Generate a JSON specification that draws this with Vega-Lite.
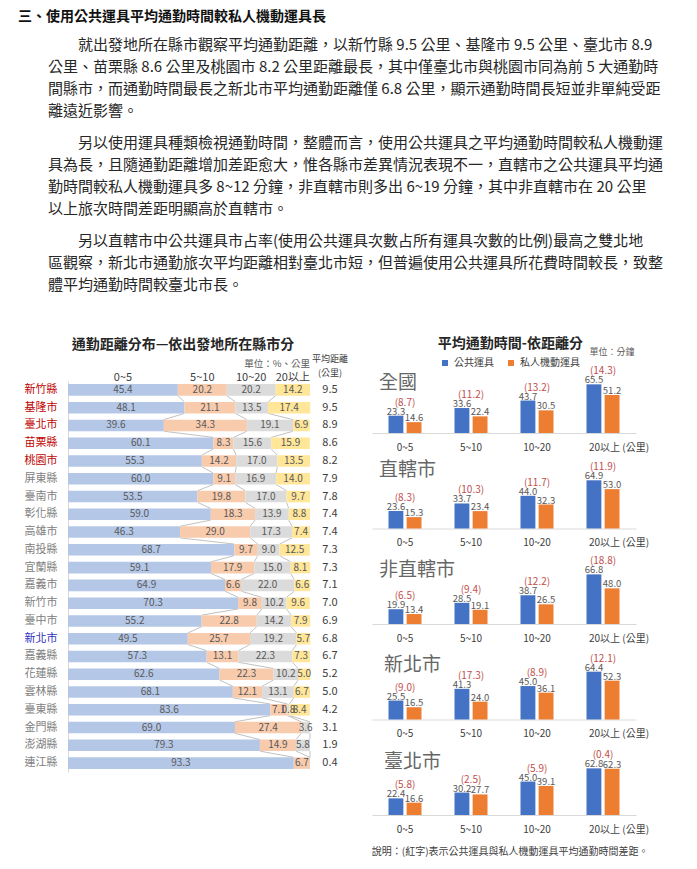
{
  "$schema": "https://vega.github.io/schema/vega-lite/v6.json",
  "background": "white",
  "padding": {"left": 18, "top": 6, "right": 0, "bottom": 0},
  "config": {
    "view": {"stroke": null},
    "font": "Noto Sans CJK TC",
    "title": {"font": "Noto Sans CJK TC", "color": "#262626"},
    "legend": {"layout": {"top": {"anchor": "middle"}}}
  },
  "datasets": {
    "text": [
      {"para": 0, "line": 1, "text": "三、使用公共運具平均通勤時間較私人機動運具長"},
      {"para": 1, "line": 1, "text": "\u200B　　　　就出發地所在縣市觀察平均通勤距離，以新竹縣 9.5 公里、基隆市 9.5 公里、臺北市 8.9"},
      {"para": 1, "line": 2, "text": "\u200B　　公里、苗栗縣 8.6 公里及桃園市 8.2 公里距離最長，其中僅臺北市與桃園市同為前 5 大通勤時"},
      {"para": 1, "line": 3, "text": "\u200B　　間縣市，而通勤時間最長之新北市平均通勤距離僅 6.8 公里，顯示通勤時間長短並非單純受距"},
      {"para": 1, "line": 4, "text": "\u200B　　離遠近影響。"},
      {"para": 2, "line": 1, "text": "\u200B　　　　另以使用運具種類檢視通勤時間，整體而言，使用公共運具之平均通勤時間較私人機動運"},
      {"para": 2, "line": 2, "text": "\u200B　　具為長，且隨通勤距離增加差距愈大，惟各縣市差異情況表現不一，直轄市之公共運具平均通"},
      {"para": 2, "line": 3, "text": "\u200B　　勤時間較私人機動運具多 8~12 分鐘，非直轄市則多出 6~19 分鐘，其中非直轄市在 20 公里"},
      {"para": 2, "line": 4, "text": "\u200B　　以上旅次時間差距明顯高於直轄市。"},
      {"para": 3, "line": 1, "text": "\u200B　　　　另以直轄市中公共運具市占率(使用公共運具次數占所有運具次數的比例)最高之雙北地"},
      {"para": 3, "line": 2, "text": "\u200B　　區觀察，新北市通勤旅次平均距離相對臺北市短，但普遍使用公共運具所花費時間較長，致整"},
      {"para": 3, "line": 3, "text": "\u200B　　體平均通勤時間較臺北市長。"}
    ],
    "dist": [
      {"county": "新竹縣", "0~5": 45.4, "5~10": 20.2, "10~20": 20.2, "20以上": 14.2, "avgKm": 9.5},
      {"county": "基隆市", "0~5": 48.1, "5~10": 21.1, "10~20": 13.5, "20以上": 17.4, "avgKm": 9.5},
      {"county": "臺北市", "0~5": 39.6, "5~10": 34.3, "10~20": 19.1, "20以上": 6.9, "avgKm": 8.9},
      {"county": "苗栗縣", "0~5": 60.1, "5~10": 8.3, "10~20": 15.6, "20以上": 15.9, "avgKm": 8.6},
      {"county": "桃園市", "0~5": 55.3, "5~10": 14.2, "10~20": 17.0, "20以上": 13.5, "avgKm": 8.2},
      {"county": "屏東縣", "0~5": 60.0, "5~10": 9.1, "10~20": 16.9, "20以上": 14.0, "avgKm": 7.9},
      {"county": "臺南市", "0~5": 53.5, "5~10": 19.8, "10~20": 17.0, "20以上": 9.7, "avgKm": 7.8},
      {"county": "彰化縣", "0~5": 59.0, "5~10": 18.3, "10~20": 13.9, "20以上": 8.8, "avgKm": 7.4},
      {"county": "高雄市", "0~5": 46.3, "5~10": 29.0, "10~20": 17.3, "20以上": 7.4, "avgKm": 7.4},
      {"county": "南投縣", "0~5": 68.7, "5~10": 9.7, "10~20": 9.0, "20以上": 12.5, "avgKm": 7.3},
      {"county": "宜蘭縣", "0~5": 59.1, "5~10": 17.9, "10~20": 15.0, "20以上": 8.1, "avgKm": 7.3},
      {"county": "嘉義市", "0~5": 64.9, "5~10": 6.6, "10~20": 22.0, "20以上": 6.6, "avgKm": 7.1},
      {"county": "新竹市", "0~5": 70.3, "5~10": 9.8, "10~20": 10.2, "20以上": 9.6, "avgKm": 7.0},
      {"county": "臺中市", "0~5": 55.2, "5~10": 22.8, "10~20": 14.2, "20以上": 7.9, "avgKm": 6.9},
      {"county": "新北市", "0~5": 49.5, "5~10": 25.7, "10~20": 19.2, "20以上": 5.7, "avgKm": 6.8},
      {"county": "嘉義縣", "0~5": 57.3, "5~10": 13.1, "10~20": 22.3, "20以上": 7.3, "avgKm": 6.7},
      {"county": "花蓮縣", "0~5": 62.6, "5~10": 22.3, "10~20": 10.2, "20以上": 5.0, "avgKm": 5.2},
      {"county": "雲林縣", "0~5": 68.1, "5~10": 12.1, "10~20": 13.1, "20以上": 6.7, "avgKm": 5.0},
      {"county": "臺東縣", "0~5": 83.6, "5~10": 7.1, "10~20": 0.8, "20以上": 8.4, "avgKm": 4.2},
      {"county": "金門縣", "0~5": 69.0, "5~10": 27.4, "10~20": 3.6, "20以上": 0, "avgKm": 3.1},
      {"county": "澎湖縣", "0~5": 79.3, "5~10": 14.9, "10~20": 5.8, "20以上": 0, "avgKm": 1.9},
      {"county": "連江縣", "0~5": 93.3, "5~10": 6.7, "10~20": 0, "20以上": 0, "avgKm": 0.4}
    ],
    "time": [
      {"panel": "全國", "range": "0~5", "公共運具": 23.3, "私人機動運具": 14.6, "diff": "(8.7)"},
      {"panel": "全國", "range": "5~10", "公共運具": 33.6, "私人機動運具": 22.4, "diff": "(11.2)"},
      {"panel": "全國", "range": "10~20", "公共運具": 43.7, "私人機動運具": 30.5, "diff": "(13.2)"},
      {"panel": "全國", "range": "20以上", "公共運具": 65.5, "私人機動運具": 51.2, "diff": "(14.3)"},
      {"panel": "直轄市", "range": "0~5", "公共運具": 23.6, "私人機動運具": 15.3, "diff": "(8.3)"},
      {"panel": "直轄市", "range": "5~10", "公共運具": 33.7, "私人機動運具": 23.4, "diff": "(10.3)"},
      {"panel": "直轄市", "range": "10~20", "公共運具": 44.0, "私人機動運具": 32.3, "diff": "(11.7)"},
      {"panel": "直轄市", "range": "20以上", "公共運具": 64.9, "私人機動運具": 53.0, "diff": "(11.9)"},
      {"panel": "非直轄市", "range": "0~5", "公共運具": 19.9, "私人機動運具": 13.4, "diff": "(6.5)"},
      {"panel": "非直轄市", "range": "5~10", "公共運具": 28.5, "私人機動運具": 19.1, "diff": "(9.4)"},
      {"panel": "非直轄市", "range": "10~20", "公共運具": 38.7, "私人機動運具": 26.5, "diff": "(12.2)"},
      {"panel": "非直轄市", "range": "20以上", "公共運具": 66.8, "私人機動運具": 48.0, "diff": "(18.8)"},
      {"panel": "新北市", "range": "0~5", "公共運具": 25.5, "私人機動運具": 16.5, "diff": "(9.0)"},
      {"panel": "新北市", "range": "5~10", "公共運具": 41.3, "私人機動運具": 24.0, "diff": "(17.3)"},
      {"panel": "新北市", "range": "10~20", "公共運具": 45.0, "私人機動運具": 36.1, "diff": "(8.9)"},
      {"panel": "新北市", "range": "20以上", "公共運具": 64.4, "私人機動運具": 52.3, "diff": "(12.1)"},
      {"panel": "臺北市", "range": "0~5", "公共運具": 22.4, "私人機動運具": 16.6, "diff": "(5.8)"},
      {"panel": "臺北市", "range": "5~10", "公共運具": 30.2, "私人機動運具": 27.7, "diff": "(2.5)"},
      {"panel": "臺北市", "range": "10~20", "公共運具": 45.0, "私人機動運具": 39.1, "diff": "(5.9)"},
      {"panel": "臺北市", "range": "20以上", "公共運具": 62.8, "私人機動運具": 62.3, "diff": "(0.4)"}
    ]
  },
  "spacing": 41,
  "vconcat": [
    {
      "spacing": 6,
      "vconcat": [
        {
          "data": {"name": "text"},
          "transform": [{"filter": "datum.para == 0"}],
          "width": 640,
          "height": {"step": 22},
          "mark": {"type": "text", "align": "left", "baseline": "middle", "fontSize": 14, "fontWeight": "bold", "color": "#111111"},
          "encoding": {
            "y": {"field": "line", "type": "ordinal", "axis": null},
            "x": {"datum": 0, "type": "quantitative", "scale": {"domain": [0, 1], "range": [-50, 590]}, "axis": null},
            "text": {"field": "text"}
          }
        },
        {
          "spacing": 10,
          "vconcat": [
            {
              "data": {"name": "text"},
              "transform": [{"filter": "datum.para == 1"}],
              "width": 640,
              "height": {"step": 22},
              "mark": {"type": "text", "align": "left", "baseline": "middle", "fontSize": 15, "color": "#262626"},
              "encoding": {
                "y": {"field": "line", "type": "ordinal", "axis": null},
                "x": {"datum": 0, "type": "quantitative", "scale": {"domain": [0, 1], "range": [-50, 590]}, "axis": null},
                "text": {"field": "text"}
              }
            },
            {
              "data": {"name": "text"},
              "transform": [{"filter": "datum.para == 2"}],
              "width": 640,
              "height": {"step": 22},
              "mark": {"type": "text", "align": "left", "baseline": "middle", "fontSize": 15, "color": "#262626"},
              "encoding": {
                "y": {"field": "line", "type": "ordinal", "axis": null},
                "x": {"datum": 0, "type": "quantitative", "scale": {"domain": [0, 1], "range": [-50, 590]}, "axis": null},
                "text": {"field": "text"}
              }
            },
            {
              "data": {"name": "text"},
              "transform": [{"filter": "datum.para == 3"}],
              "width": 640,
              "height": {"step": 22},
              "mark": {"type": "text", "align": "left", "baseline": "middle", "fontSize": 15, "color": "#262626"},
              "encoding": {
                "y": {"field": "line", "type": "ordinal", "axis": null},
                "x": {"datum": 0, "type": "quantitative", "scale": {"domain": [0, 1], "range": [-50, 590]}, "axis": null},
                "text": {"field": "text"}
              }
            }
          ]
        }
      ]
    },
    {
      "spacing": 23,
      "title": {"text": "說明：(紅字)表示公共運具與私人機動運具平均通勤時間差距。", "orient": "bottom", "anchor": "end", "fontSize": 10, "fontWeight": "normal", "color": "#404040", "offset": 13},
      "resolve": {"scale": {"color": "independent"}, "legend": {"color": "independent"}},
      "hconcat": [
        {
          "bounds": "flush",
          "spacing": 5,
          "title": {"text": "通勤距離分布—依出發地所在縣市分", "anchor": "middle", "fontSize": 14, "fontWeight": "bold", "color": "#262626", "offset": 3},
          "hconcat": [
            {
              "data": {"name": "dist"},
              "transform": [
                {"window": [{"op": "row_number", "as": "cidx"}]},
                {"fold": ["0~5", "5~10", "10~20", "20以上"], "as": ["range", "pct"]},
                {"window": [{"op": "row_number", "as": "idx"}], "groupby": ["county"]}
              ],
              "width": 242,
              "height": 391,
              "encoding": {
                "y": {
                  "field": "county", "type": "nominal", "sort": null,
                  "scale": {"type": "band", "paddingInner": 0.35, "paddingOuter": 0.175},
                  "axis": {
                    "title": null, "ticks": false, "domainColor": "#D9D9D9", "labelPadding": 11, "minExtent": 50,
                    "labelFontSize": 11,
                    "labelColor": {
                      "condition": [
                        {"test": "indexof(['新竹縣','基隆市','臺北市','苗栗縣','桃園市'], datum.value) >= 0", "value": "#C00000"},
                        {"test": "datum.value == '新北市'", "value": "#2F2FBF"}
                      ],
                      "value": "#808080"
                    }
                  }
                }
              },
              "layer": [
                {
                  "transform": [
                    {"stack": "pct", "groupby": ["county"], "sort": [{"field": "idx"}], "as": ["s0", "s1"]},
                    {"window": [{"op": "lead", "field": "s1", "as": "ns1"}, {"op": "lead", "field": "county", "as": "ncounty"}], "groupby": ["range"], "sort": [{"field": "cidx"}]},
                    {"filter": "datum.ncounty != null && datum.range != '20以上'"}
                  ],
                  "mark": {"type": "rule", "color": "#A6A6A6", "strokeWidth": 0.7},
                  "encoding": {
                    "x": {"field": "s1", "type": "quantitative", "scale": {"domain": [0, 100], "nice": false}, "axis": null},
                    "x2": {"field": "ns1"},
                    "y": {
                      "field": "county", "type": "nominal", "sort": null, "bandPosition": 1,
                      "scale": {"type": "band", "paddingInner": 0.35, "paddingOuter": 0.175},
                      "axis": {
                        "title": null, "ticks": false, "domainColor": "#D9D9D9", "labelPadding": 11, "minExtent": 50,
                        "labelFontSize": 11,
                        "labelColor": {
                          "condition": [
                            {"test": "indexof(['新竹縣','基隆市','臺北市','苗栗縣','桃園市'], datum.value) >= 0", "value": "#C00000"},
                            {"test": "datum.value == '新北市'", "value": "#2F2FBF"}
                          ],
                          "value": "#808080"
                        }
                      }
                    },
                    "y2": {"field": "ncounty", "bandPosition": 0}
                  }
                },
                {
                  "mark": {"type": "bar"},
                  "encoding": {
                    "x": {"field": "pct", "type": "quantitative", "stack": "zero", "scale": {"domain": [0, 100], "nice": false}, "axis": null},
                    "color": {"field": "range", "type": "nominal", "scale": {"domain": ["0~5", "5~10", "10~20", "20以上"], "range": ["#B4C7E7", "#F8CBAD", "#DBDBDB", "#FFE699"]}, "legend": null},
                    "order": {"field": "idx", "type": "quantitative"}
                  }
                },
                {
                  "transform": [{"filter": "datum.pct > 0"}],
                  "mark": {"type": "text", "fontSize": 10, "color": "#595959", "baseline": "middle"},
                  "encoding": {
                    "x": {"field": "pct", "type": "quantitative", "stack": "zero", "bandPosition": 0.5},
                    "detail": {"field": "range"},
                    "order": {"field": "idx", "type": "quantitative"},
                    "text": {"field": "pct", "format": ".1f"}
                  }
                },
                {
                  "transform": [{"filter": "datum.county == '新竹縣'"}],
                  "mark": {"type": "text", "fontSize": 11, "color": "#404040", "baseline": "middle", "dy": -12},
                  "encoding": {
                    "x": {"field": "pct", "type": "quantitative", "stack": "zero", "bandPosition": 0.5},
                    "detail": {"field": "range"},
                    "order": {"field": "idx", "type": "quantitative"},
                    "text": {"field": "range"}
                  }
                },
                {
                  "transform": [{"filter": "datum.county == '新竹縣' && datum.range == '20以上'"}],
                  "mark": {"type": "text", "fontSize": 9.5, "color": "#595959", "baseline": "middle", "align": "right", "dy": -26},
                  "encoding": {
                    "x": {"datum": 100, "type": "quantitative"},
                    "text": {"value": "單位：%、公里"}
                  }
                }
              ]
            },
            {
              "data": {"name": "dist"},
              "width": 30,
              "height": 391,
              "title": {"text": ["平均距離", "(公里)"], "fontSize": 9, "fontWeight": "normal", "color": "#404040", "offset": 3, "lineHeight": 14},
              "mark": {"type": "text", "fontSize": 11, "color": "#404040", "baseline": "middle"},
              "encoding": {
                "y": {"field": "county", "type": "nominal", "sort": null, "scale": {"type": "band", "paddingInner": 0.35, "paddingOuter": 0.175}, "axis": null},
                "text": {"field": "avgKm", "format": ".1f"}
              }
            }
          ]
        },
        {
          "bounds": "flush",
          "spacing": 43.5,
          "title": {"text": "平均通勤時間-依距離分", "anchor": "middle", "fontSize": 14, "fontWeight": "bold", "color": "#262626", "offset": -3},
          "vconcat": [
            {
              "data": {"name": "time"},
              "transform": [{"filter": "datum.panel == '全國'"}, {"fold": ["公共運具", "私人機動運具"], "as": ["mode", "minutes"]}],
              "width": 264, "height": 52,
              "title": {"text": "全國", "anchor": "start", "frame": "group", "fontSize": 19, "fontWeight": "normal", "color": "#666666", "dx": 7, "offset": -45},
              "encoding": {
                "x": {"field": "range", "type": "nominal", "sort": ["0~5", "5~10", "10~20", "20以上"], "scale": {"paddingInner": 0.5, "paddingOuter": 0.25},
                  "axis": {"title": null, "ticks": false, "domainColor": "#D9D9D9", "labelAngle": 0, "labelFontSize": 10, "labelColor": "#404040", "labelPadding": 9,
                    "labelExpr": "datum.value == '20以上' ? '20以上 (公里)' : datum.value",
                    "labelAlign": {"condition": {"test": "datum.value == '20以上'", "value": "left"}, "value": "center"},
                    "labelOffset": {"condition": {"test": "datum.value == '20以上'", "value": -14}, "value": 0}}},
                "y": {"field": "minutes", "type": "quantitative", "scale": {"domain": [0, 70], "nice": false}, "axis": null}
              },
              "layer": [
                {"mark": {"type": "bar"},
                 "encoding": {
                   "xOffset": {"field": "mode", "type": "nominal", "sort": ["公共運具", "私人機動運具"], "scale": {"paddingInner": 0.18}},
                   "color": {"field": "mode", "type": "nominal", "scale": {"domain": ["公共運具", "私人機動運具"], "range": ["#4472C4", "#ED7D31"]},
                     "legend": {"orient": "top", "direction": "horizontal", "title": null, "symbolType": "square", "symbolSize": 36, "symbolStrokeWidth": 0, "labelFontSize": 10, "labelColor": "#404040", "columnPadding": 12, "offset": -20}}
                 }},
                {"mark": {"type": "text", "baseline": "bottom", "dy": 1, "fontSize": 9.5, "color": "#595959"},
                 "encoding": {
                   "xOffset": {"field": "mode", "type": "nominal", "sort": ["公共運具", "私人機動運具"], "scale": {"paddingInner": 0.18}},
                   "text": {"field": "minutes", "format": ".1f"}
                 }},
                {"transform": [{"filter": "datum.mode == '公共運具'"}],
                 "mark": {"type": "text", "baseline": "bottom", "dy": -8, "fontSize": 10, "color": "#C0504D"},
                 "encoding": {"text": {"field": "diff"}}},
                {"transform": [{"filter": "datum.mode == '私人機動運具' && datum.range == '20以上'"}],
                 "mark": {"type": "text", "baseline": "middle", "dy": -29, "fontSize": 9, "color": "#595959"},
                 "encoding": {
                   "xOffset": {"field": "mode", "type": "nominal", "sort": ["公共運具", "私人機動運具"], "scale": {"paddingInner": 0.18}},
                   "y": {"datum": 70, "type": "quantitative"},
                   "text": {"value": "單位：分鐘"}
                 }}
              ]
            },
            {
              "data": {"name": "time"},
              "transform": [{"filter": "datum.panel == '直轄市'"}, {"fold": ["公共運具", "私人機動運具"], "as": ["mode", "minutes"]}],
              "width": 264, "height": 52,
              "title": {"text": "直轄市", "anchor": "start", "frame": "group", "fontSize": 19, "fontWeight": "normal", "color": "#666666", "dx": 7, "offset": -18},
              "encoding": {
                "x": {"field": "range", "type": "nominal", "sort": ["0~5", "5~10", "10~20", "20以上"], "scale": {"paddingInner": 0.5, "paddingOuter": 0.25},
                  "axis": {"title": null, "ticks": false, "domainColor": "#D9D9D9", "labelAngle": 0, "labelFontSize": 10, "labelColor": "#404040", "labelPadding": 9,
                    "labelExpr": "datum.value == '20以上' ? '20以上 (公里)' : datum.value",
                    "labelAlign": {"condition": {"test": "datum.value == '20以上'", "value": "left"}, "value": "center"},
                    "labelOffset": {"condition": {"test": "datum.value == '20以上'", "value": -14}, "value": 0}}},
                "y": {"field": "minutes", "type": "quantitative", "scale": {"domain": [0, 70], "nice": false}, "axis": null}
              },
              "layer": [
                {"mark": {"type": "bar"},
                 "encoding": {
                   "xOffset": {"field": "mode", "type": "nominal", "sort": ["公共運具", "私人機動運具"], "scale": {"paddingInner": 0.18}},
                   "color": {"field": "mode", "type": "nominal", "scale": {"domain": ["公共運具", "私人機動運具"], "range": ["#4472C4", "#ED7D31"]}}
                 }},
                {"mark": {"type": "text", "baseline": "bottom", "dy": 1, "fontSize": 9.5, "color": "#595959"},
                 "encoding": {
                   "xOffset": {"field": "mode", "type": "nominal", "sort": ["公共運具", "私人機動運具"], "scale": {"paddingInner": 0.18}},
                   "text": {"field": "minutes", "format": ".1f"}
                 }},
                {"transform": [{"filter": "datum.mode == '公共運具'"}],
                 "mark": {"type": "text", "baseline": "bottom", "dy": -8, "fontSize": 10, "color": "#C0504D"},
                 "encoding": {"text": {"field": "diff"}}}
              ]
            },
            {
              "data": {"name": "time"},
              "transform": [{"filter": "datum.panel == '非直轄市'"}, {"fold": ["公共運具", "私人機動運具"], "as": ["mode", "minutes"]}],
              "width": 264, "height": 52,
              "title": {"text": "非直轄市", "anchor": "start", "frame": "group", "fontSize": 19, "fontWeight": "normal", "color": "#666666", "dx": 7, "offset": -24},
              "encoding": {
                "x": {"field": "range", "type": "nominal", "sort": ["0~5", "5~10", "10~20", "20以上"], "scale": {"paddingInner": 0.5, "paddingOuter": 0.25},
                  "axis": {"title": null, "ticks": false, "domainColor": "#D9D9D9", "labelAngle": 0, "labelFontSize": 10, "labelColor": "#404040", "labelPadding": 9,
                    "labelExpr": "datum.value == '20以上' ? '20以上 (公里)' : datum.value",
                    "labelAlign": {"condition": {"test": "datum.value == '20以上'", "value": "left"}, "value": "center"},
                    "labelOffset": {"condition": {"test": "datum.value == '20以上'", "value": -14}, "value": 0}}},
                "y": {"field": "minutes", "type": "quantitative", "scale": {"domain": [0, 70], "nice": false}, "axis": null}
              },
              "layer": [
                {"mark": {"type": "bar"},
                 "encoding": {
                   "xOffset": {"field": "mode", "type": "nominal", "sort": ["公共運具", "私人機動運具"], "scale": {"paddingInner": 0.18}},
                   "color": {"field": "mode", "type": "nominal", "scale": {"domain": ["公共運具", "私人機動運具"], "range": ["#4472C4", "#ED7D31"]}}
                 }},
                {"mark": {"type": "text", "baseline": "bottom", "dy": 1, "fontSize": 9.5, "color": "#595959"},
                 "encoding": {
                   "xOffset": {"field": "mode", "type": "nominal", "sort": ["公共運具", "私人機動運具"], "scale": {"paddingInner": 0.18}},
                   "text": {"field": "minutes", "format": ".1f"}
                 }},
                {"transform": [{"filter": "datum.mode == '公共運具'"}],
                 "mark": {"type": "text", "baseline": "bottom", "dy": -8, "fontSize": 10, "color": "#C0504D"},
                 "encoding": {"text": {"field": "diff"}}}
              ]
            },
            {
              "data": {"name": "time"},
              "transform": [{"filter": "datum.panel == '新北市'"}, {"fold": ["公共運具", "私人機動運具"], "as": ["mode", "minutes"]}],
              "width": 264, "height": 52,
              "title": {"text": "新北市", "anchor": "start", "frame": "group", "fontSize": 19, "fontWeight": "normal", "color": "#666666", "dx": 12, "offset": -21},
              "encoding": {
                "x": {"field": "range", "type": "nominal", "sort": ["0~5", "5~10", "10~20", "20以上"], "scale": {"paddingInner": 0.5, "paddingOuter": 0.25},
                  "axis": {"title": null, "ticks": false, "domainColor": "#D9D9D9", "labelAngle": 0, "labelFontSize": 10, "labelColor": "#404040", "labelPadding": 9,
                    "labelExpr": "datum.value == '20以上' ? '20以上 (公里)' : datum.value",
                    "labelAlign": {"condition": {"test": "datum.value == '20以上'", "value": "left"}, "value": "center"},
                    "labelOffset": {"condition": {"test": "datum.value == '20以上'", "value": -14}, "value": 0}}},
                "y": {"field": "minutes", "type": "quantitative", "scale": {"domain": [0, 70], "nice": false}, "axis": null}
              },
              "layer": [
                {"mark": {"type": "bar"},
                 "encoding": {
                   "xOffset": {"field": "mode", "type": "nominal", "sort": ["公共運具", "私人機動運具"], "scale": {"paddingInner": 0.18}},
                   "color": {"field": "mode", "type": "nominal", "scale": {"domain": ["公共運具", "私人機動運具"], "range": ["#4472C4", "#ED7D31"]}}
                 }},
                {"mark": {"type": "text", "baseline": "bottom", "dy": 1, "fontSize": 9.5, "color": "#595959"},
                 "encoding": {
                   "xOffset": {"field": "mode", "type": "nominal", "sort": ["公共運具", "私人機動運具"], "scale": {"paddingInner": 0.18}},
                   "text": {"field": "minutes", "format": ".1f"}
                 }},
                {"transform": [{"filter": "datum.mode == '公共運具'"}],
                 "mark": {"type": "text", "baseline": "bottom", "dy": -8, "fontSize": 10, "color": "#C0504D"},
                 "encoding": {"text": {"field": "diff"}}}
              ]
            },
            {
              "data": {"name": "time"},
              "transform": [{"filter": "datum.panel == '臺北市'"}, {"fold": ["公共運具", "私人機動運具"], "as": ["mode", "minutes"]}],
              "width": 264, "height": 52,
              "title": {"text": "臺北市", "anchor": "start", "frame": "group", "fontSize": 19, "fontWeight": "normal", "color": "#666666", "dx": 12, "offset": -22},
              "encoding": {
                "x": {"field": "range", "type": "nominal", "sort": ["0~5", "5~10", "10~20", "20以上"], "scale": {"paddingInner": 0.5, "paddingOuter": 0.25},
                  "axis": {"title": null, "ticks": false, "domainColor": "#D9D9D9", "labelAngle": 0, "labelFontSize": 10, "labelColor": "#404040", "labelPadding": 9,
                    "labelExpr": "datum.value == '20以上' ? '20以上 (公里)' : datum.value",
                    "labelAlign": {"condition": {"test": "datum.value == '20以上'", "value": "left"}, "value": "center"},
                    "labelOffset": {"condition": {"test": "datum.value == '20以上'", "value": -14}, "value": 0}}},
                "y": {"field": "minutes", "type": "quantitative", "scale": {"domain": [0, 70], "nice": false}, "axis": null}
              },
              "layer": [
                {"mark": {"type": "bar"},
                 "encoding": {
                   "xOffset": {"field": "mode", "type": "nominal", "sort": ["公共運具", "私人機動運具"], "scale": {"paddingInner": 0.18}},
                   "color": {"field": "mode", "type": "nominal", "scale": {"domain": ["公共運具", "私人機動運具"], "range": ["#4472C4", "#ED7D31"]}}
                 }},
                {"mark": {"type": "text", "baseline": "bottom", "dy": 1, "fontSize": 9.5, "color": "#595959"},
                 "encoding": {
                   "xOffset": {"field": "mode", "type": "nominal", "sort": ["公共運具", "私人機動運具"], "scale": {"paddingInner": 0.18}},
                   "text": {"field": "minutes", "format": ".1f"}
                 }},
                {"transform": [{"filter": "datum.mode == '公共運具'"}],
                 "mark": {"type": "text", "baseline": "bottom", "dy": -8, "fontSize": 10, "color": "#C0504D"},
                 "encoding": {"text": {"field": "diff"}}}
              ]
            }
          ]
        }
      ]
    }
  ]
}
